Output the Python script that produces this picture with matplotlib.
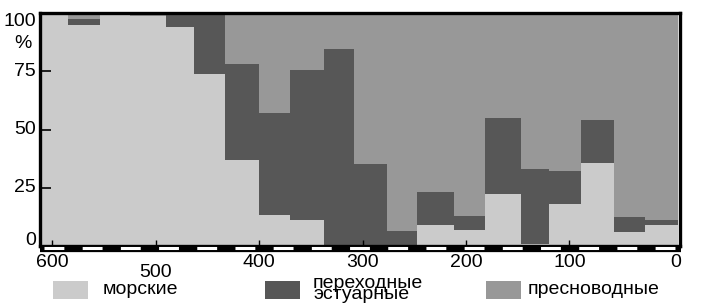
import numpy as np
import matplotlib.pyplot as plt
from matplotlib.patches import Rectangle
from matplotlib.lines import Line2D
import matplotlib.transforms as mtransforms

plt.rcParams['font.family'] = ['Liberation Sans', 'DejaVu Sans']

# границы интервалов (млн лет назад), от древних к молодым
granicy = [612, 585, 554, 525, 490, 463, 433, 400, 370, 337, 308,
           276, 247, 212, 182, 147, 120, 89, 57, 27, -5]
# доли групп, %
morskie = [100, 95, 99.5, 98.5, 94, 74, 37, 13.5, 11, 0,
           0, 0, 9, 7, 22.5, 1, 18, 35.5, 6, 9]
perehodnye = [0, 2.5, 0, 0, 6, 26, 41, 43.5, 64.5, 84.5,
              35, 6.5, 14, 6, 32.5, 32, 14, 18.5, 6.5, 2]
presnovodnye = [100 - m - p for m, p in zip(morskie, perehodnye)]

metki_x = [600, 500, 400, 300, 200, 100, 0]
metki_y = [0, 25, 50, 75, 100]
nazvaniya = ['морские', 'переходные\nэстуарные', 'пресноводные']
cveta = ['#cbcbcb', '#575757', '#989898']

W, H = 703, 308
fs = 14
fig = plt.figure(figsize=(W / 100, H / 100), dpi=100)
ax = fig.add_axes([40 / W, 1 - 246 / H, 640 / W, 233 / H])

e = np.array(granicy[::-1], dtype=float)
m = np.array(morskie[::-1])
p = np.array(perehodnye[::-1])
f = np.array(presnovodnye[::-1])
ax.stairs(m, e, baseline=0, fill=True, color=cveta[0], lw=0)
ax.stairs(m + p, e, baseline=m, fill=True, color=cveta[1], lw=0)
ax.stairs(m + p + f, e, baseline=m + p, fill=True, color=cveta[2], lw=0)

ax.set_xlim(612, -7)
ax.set_ylim(0, 100)
for s in ax.spines.values():
    s.set_linewidth(2.4)

ax.set_xticks([600, 500, 400, 300, 200, 100])
ax.set_xticklabels([])
ax.tick_params(axis='x', direction='in', length=4.5, width=1)
ax.set_yticks([25, 50, 75])
ax.set_yticklabels([])
ax.tick_params(axis='y', direction='in', length=8, width=1.2)

# подписи оси X (500 опущена ниже)
tr = mtransforms.blended_transform_factory(ax.transData, ax.transAxes)
for v in metki_x:
    dy = -0.115 if v == 500 else -0.07
    xv = -3 if v == 0 else v
    ax.text(xv, dy, str(v), transform=tr, ha='center', va='center',
            fontsize=fs, clip_on=False)

# подписи оси Y
tr2 = mtransforms.blended_transform_factory(fig.transFigure, ax.transData)
for v in metki_y:
    if v == 100:
        ax.text(36 / W, 96.5, '100', transform=tr2, ha='right', va='center', fontsize=fs)
        ax.text(23 / W, 87, '%', transform=tr2, ha='center', va='center', fontsize=fs)
    elif v == 0:
        ax.text(36 / W, 2.5, '0', transform=tr2, ha='right', va='center', fontsize=fs)
    else:
        ax.text(36 / W, v, str(v), transform=tr2, ha='right', va='center', fontsize=fs)

# полосатая шкала под осью
fig.add_artist(Line2D([40 / W, 681 / W], [1 - 249 / H] * 2, color='black', lw=4.5,
                      solid_capstyle='butt'))
fig.add_artist(Line2D([44 / W, 681 / W], [1 - 248 / H] * 2, color='white', lw=2.2,
                      linestyle=(0, (6.5, 6))))

# легенда
kv_x = [53, 265, 486]
tx_x = [103, 313, 528]
for kx, tx, c, n in zip(kv_x, tx_x, cveta, nazvaniya):
    fig.add_artist(Rectangle((kx / W, 1 - 299 / H), 35 / W, 18 / H,
                             transform=fig.transFigure, color=c, lw=0))
    fig.text(tx / W, 1 - 289 / H, n, ha='left', va='center', fontsize=fs,
             linespacing=0.56)

fig.savefig('out.png', dpi=100)
